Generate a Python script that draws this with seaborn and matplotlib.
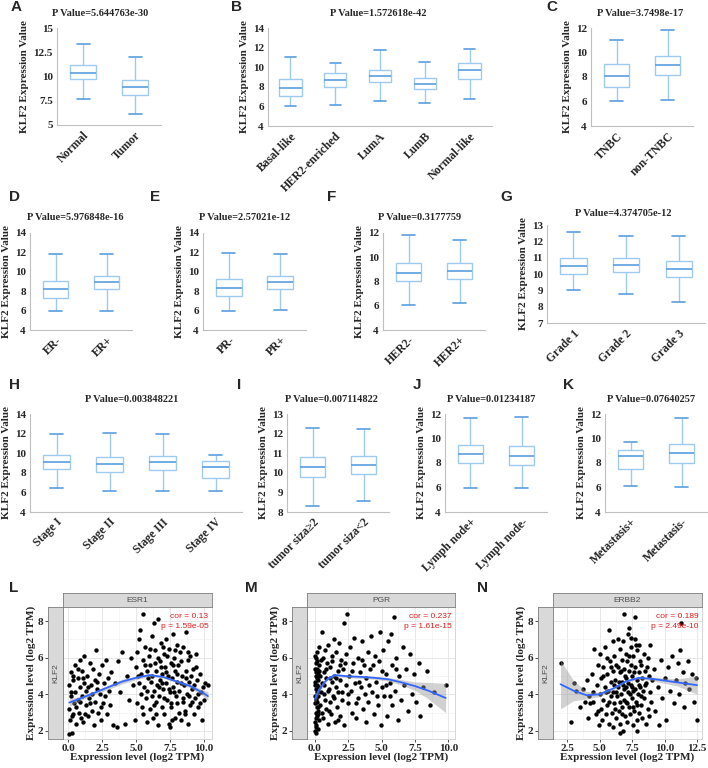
import numpy as np
import pandas as pd
import matplotlib
matplotlib.use("Agg")
import matplotlib.pyplot as plt
import seaborn as sns
from matplotlib.ticker import FixedLocator, MultipleLocator

# ---------------- box plot data: [lower whisker, Q1, median, Q3, upper whisker]
a_groups = ["Normal", "Tumor"]
a_stats = [[7.7, 9.75, 10.35, 11.2, 13.4], [6.1, 8.1, 8.9, 9.65, 12.0]]
a_yticks = [5, 7.5, 10, 12.5, 15]

b_groups = ["Basal-like", "HER2-enriched", "LumA", "LumB", "Normal-like"]
b_stats = [[6.0, 7.1, 7.9, 8.8, 11.0], [6.15, 7.95, 8.65, 9.45, 10.4],
           [6.55, 8.5, 9.15, 9.75, 11.8], [6.3, 7.8, 8.25, 8.9, 10.55],
           [6.8, 8.8, 9.7, 10.4, 11.9]]
b_yticks = [4, 6, 8, 10, 12, 14]

c_groups = ["TNBC", "non-TNBC"]
c_stats = [[6.05, 7.2, 8.1, 9.1, 11.05], [6.1, 8.2, 8.95, 9.7, 11.85]]
c_yticks = [4, 6, 8, 10, 12]

d_groups = ["ER-", "ER+"]
d_stats = [[6.0, 7.25, 8.2, 9.1, 11.8], [6.0, 8.2, 8.9, 9.6, 11.8]]
d_yticks = [4, 6, 8, 10, 12, 14]

e_groups = ["PR-", "PR+"]
e_stats = [[6.0, 7.55, 8.35, 9.3, 11.9], [6.05, 8.2, 8.9, 9.6, 11.8]]
e_yticks = [4, 6, 8, 10, 12, 14]

f_groups = ["HER2-", "HER2+"]
f_stats = [[6.05, 8.05, 8.7, 9.5, 11.8], [6.2, 8.2, 8.9, 9.55, 11.45]]
f_yticks = [4, 6, 8, 10, 12]

g_groups = ["Grade 1", "Grade 2", "Grade 3"]
g_stats = [[9.0, 10.0, 10.5, 11.0, 12.6], [8.8, 10.1, 10.55, 10.95, 12.3],
           [8.3, 9.8, 10.3, 10.8, 12.3]]
g_yticks = [7, 8, 9, 10, 11, 12, 13]

h_groups = ["Stage I", "Stage II", "Stage III", "Stage IV"]
h_stats = [[6.5, 8.4, 9.1, 9.8, 12.0], [6.1, 8.05, 8.9, 9.6, 12.05],
           [6.15, 8.25, 9.1, 9.7, 11.95], [6.15, 7.5, 8.55, 9.2, 9.8]]
h_yticks = [4, 6, 8, 10, 12, 14]

i_groups = ["tumor siza≥2", "tumor siza<2"]
i_stats = [[8.3, 9.8, 10.3, 10.8, 12.3], [8.55, 9.95, 10.4, 10.85, 12.25]]
i_yticks = [8, 9, 10, 11, 12, 13]

j_groups = ["Lymph node+", "Lymph node-"]
j_stats = [[5.95, 8.0, 8.75, 9.45, 11.65], [5.95, 7.8, 8.6, 9.35, 11.75]]
j_yticks = [4, 6, 8, 10, 12]

k_groups = ["Metastasis+", "Metastasis-"]
k_stats = [[6.1, 7.55, 8.6, 9.1, 9.7], [6.05, 8.0, 8.85, 9.55, 11.7]]
k_yticks = [4, 6, 8, 10, 12]

titles = {
    "A": "P Value=5.644763e-30", "B": "P Value=1.572618e-42", "C": "P Value=3.7498e-17",
    "D": "P Value=5.976848e-16", "E": "P Value=2.57021e-12", "F": "P Value=0.3177759",
    "G": "P Value=4.374705e-12", "H": "P Value=0.003848221", "I": "P Value=0.007114822",
    "J": "P Value=0.01234187", "K": "P Value=0.07640257",
}

# ---------------- scatter data (KLF2 vs gene, log2 TPM)
esr1_xy = [
    (0.05, 4.5), (0.1, 3.2), (0.15, 2.6), (0.2, 5.2), (0.1, 1.85), (0.3, 1.9), (0.25, 3.9),
    (0.35, 4.8), (0.4, 2.9), (0.45, 3.5), (0.5, 5.6), (0.55, 4.1), (0.6, 2.4), (0.7, 3.7),
    (0.75, 4.9), (0.8, 3.0), (0.85, 5.9), (0.9, 4.4), (0.95, 2.7),
    (1.0, 3.9), (1.05, 5.3), (1.1, 2.5), (1.15, 4.6), (1.2, 6.1), (1.3, 3.4), (1.35, 4.2),
    (1.4, 5.0), (1.5, 2.8), (1.55, 3.8), (1.6, 5.7), (1.7, 4.5), (1.75, 3.1), (1.8, 4.0),
    (1.85, 5.4), (1.9, 2.3), (1.95, 4.8), (2.0, 3.6),
    (2.05, 6.4), (2.1, 4.3), (2.2, 3.0), (2.25, 5.1), (2.35, 4.0), (2.4, 2.6), (2.5, 5.6),
    (2.55, 3.5), (2.65, 4.6), (2.7, 3.9), (2.8, 5.9), (2.85, 2.9), (2.95, 4.9), (3.0, 4.2),
    (3.1, 3.4), (3.2, 5.2), (3.3, 2.3), (3.45, 4.6), (3.6, 2.2), (3.7, 5.8), (3.85, 4.1),
    (4.0, 6.3), (4.2, 2.4), (4.35, 5.0), (4.5, 3.7), (4.6, 6.0), (4.8, 4.5), (4.9, 2.6),
    (5.0, 5.5), (5.05, 3.5), (5.1, 6.3), (5.2, 4.6), (5.25, 7.0), (5.3, 7.5), (5.35, 4.0),
    (5.4, 5.1), (5.5, 8.4), (5.5, 2.9), (5.55, 5.9), (5.6, 4.4), (5.7, 6.6), (5.75, 3.8),
    (5.8, 5.3), (5.85, 2.5), (5.9, 4.9), (5.95, 6.1),
    (6.0, 5.6), (6.05, 3.2), (6.1, 4.7), (6.15, 7.2), (6.2, 5.0), (6.25, 2.7), (6.3, 7.9),
    (6.35, 4.2), (6.4, 6.4), (6.45, 3.6), (6.5, 5.3), (6.55, 4.5), (6.6, 8.1), (6.6, 2.3),
    (6.65, 6.0), (6.7, 3.9), (6.75, 5.8), (6.8, 4.8), (6.85, 6.8), (6.9, 3.3), (6.95, 5.1),
    (7.0, 4.3),
    (7.05, 6.2), (7.1, 2.9), (7.15, 5.5), (7.2, 4.6), (7.25, 7.0), (7.3, 3.7), (7.35, 5.0),
    (7.4, 2.4), (7.45, 6.5), (7.5, 4.1), (7.55, 5.7), (7.6, 3.3), (7.65, 4.9), (7.7, 7.3),
    (7.75, 4.4), (7.8, 6.0), (7.85, 2.7), (7.9, 5.3), (7.95, 3.9), (8.0, 6.7), (8.0, 4.7),
    (7.5, 2.2),
    (8.05, 3.5), (8.1, 5.6), (8.2, 4.2), (8.25, 6.3), (8.3, 2.6), (8.4, 5.0), (8.45, 3.8),
    (8.5, 6.6), (8.55, 4.5), (8.6, 3.1), (8.7, 7.4), (8.7, 5.3), (8.75, 4.0), (8.8, 2.4),
    (8.85, 5.9), (8.9, 4.7), (8.95, 3.4), (9.0, 6.1),
    (9.1, 4.3), (9.2, 5.4), (9.25, 2.9), (9.35, 3.8), (9.4, 6.2), (9.5, 4.8), (9.6, 3.3),
    (9.7, 5.1), (9.8, 4.1), (9.9, 2.6), (10.0, 3.7), (10.1, 4.6), (10.3, 4.5),
    (0.2, 4.1), (0.4, 5.0), (0.6, 3.3), (0.9, 3.6), (1.1, 4.9), (1.25, 2.9), (1.45, 4.4),
    (1.65, 3.5), (2.15, 4.7), (2.45, 3.3), (0.3, 2.8), (0.7, 5.4),
    (5.15, 5.0), (5.45, 3.3), (5.65, 5.6), (5.8, 4.2), (6.05, 6.5), (6.2, 3.9), (6.4, 5.7),
    (6.5, 2.9), (6.7, 4.4), (6.85, 5.5), (7.0, 6.6), (7.1, 3.8), (7.2, 5.2), (7.3, 6.1),
    (7.4, 4.3), (7.55, 3.5), (7.7, 5.6), (7.8, 4.1), (7.9, 6.4), (8.05, 5.1), (8.15, 3.0),
    (8.3, 4.6), (8.35, 5.8), (8.5, 3.6), (8.65, 4.9), (8.8, 6.3), (8.9, 3.9), (9.05, 5.0),
    (9.15, 3.6), (9.3, 4.5), (9.45, 5.5), (9.55, 4.0), (9.75, 3.5), (9.95, 4.4), (6.3, 3.4),
    (6.9, 4.6), (7.65, 2.6), (8.6, 2.9),
]
esr1_fit_x = [0.1, 1, 2, 3, 4, 5, 6, 7, 8, 9, 10, 10.3]
esr1_fit_y = [3.55, 3.8, 4.1, 4.4, 4.7, 4.9, 5.05, 4.95, 4.7, 4.45, 4.05, 3.9]
esr1_fit_lo = [3.35, 3.68, 4.0, 4.28, 4.57, 4.8, 4.97, 4.88, 4.63, 4.35, 3.88, 3.65]
esr1_fit_hi = [3.75, 3.92, 4.2, 4.52, 4.83, 5.0, 5.13, 5.02, 4.77, 4.55, 4.22, 4.15]

pgr_xy = [
    (0.0, 2.0), (0.02, 2.5), (0.05, 3.0), (0.03, 3.5), (0.0, 3.9), (0.06, 4.3), (0.02, 4.7),
    (0.08, 5.2), (0.04, 5.7), (0.0, 6.1), (0.1, 2.3), (0.12, 2.8), (0.15, 3.3), (0.1, 3.7),
    (0.13, 4.1), (0.17, 4.5), (0.11, 5.0), (0.16, 5.4), (0.14, 6.3), (0.2, 2.1), (0.22, 3.1),
    (0.25, 3.9), (0.21, 4.8), (0.27, 5.6), (0.3, 2.6), (0.3, 4.4), (0.05, 1.9), (0.28, 6.6),
    (0.18, 3.6), (0.24, 5.1),
    (0.4, 3.4), (0.45, 5.9), (0.5, 4.6), (0.55, 7.4), (0.6, 2.7), (0.65, 5.2), (0.7, 4.0),
    (0.75, 6.4), (0.8, 3.2), (0.85, 4.9), (0.9, 5.7), (0.95, 2.4), (1.0, 6.7), (1.05, 4.3),
    (1.1, 3.6), (1.15, 5.5), (1.2, 2.9), (1.25, 6.1), (1.3, 4.7), (1.35, 3.9), (1.4, 5.0),
    (1.45, 7.0), (1.5, 2.5), (1.55, 4.4), (1.6, 6.3), (1.65, 3.3), (1.7, 5.3), (1.75, 4.1),
    (1.8, 6.8), (1.85, 2.8), (1.9, 4.8), (1.95, 5.9), (2.0, 3.7), (2.1, 5.4), (2.15, 7.9),
    (2.2, 2.3), (2.3, 4.5), (2.35, 6.2), (2.4, 8.4), (2.45, 3.5),
    (2.55, 5.0), (2.6, 6.6), (2.7, 4.2), (2.8, 3.0), (2.85, 5.7), (2.95, 7.1), (3.0, 4.6),
    (3.1, 2.7), (3.2, 6.0), (3.25, 3.8), (3.35, 5.2), (3.45, 4.4), (3.5, 6.9), (3.6, 3.2),
    (3.7, 5.6), (3.8, 2.5), (3.85, 4.9), (3.95, 6.3), (4.0, 3.6), (4.1, 5.4), (4.2, 7.2),
    (4.3, 4.1), (4.4, 2.9), (4.5, 6.1), (4.6, 4.7), (4.7, 3.4), (4.8, 5.8), (4.9, 7.4),
    (4.95, 2.3), (5.0, 4.4),
    (5.1, 6.4), (5.2, 3.9), (5.3, 5.1), (5.4, 2.8), (5.5, 6.9), (5.6, 4.6), (5.7, 7.3),
    (5.75, 3.4), (5.8, 5.6), (5.9, 8.2), (6.0, 4.2), (6.1, 6.0), (6.2, 2.6), (6.3, 5.0),
    (6.45, 3.7), (6.6, 6.6), (6.7, 4.5), (6.85, 5.4), (7.0, 3.1), (7.1, 6.2), (7.25, 4.0),
    (7.4, 5.1),
    (7.6, 3.6), (7.8, 5.7), (7.9, 2.8), (8.1, 4.4), (8.4, 5.3), (8.6, 3.4), (8.9, 4.1),
    (9.8, 4.5),
    (0.0, 4.5), (0.02, 5.4), (0.07, 2.2), (0.09, 3.8), (0.12, 4.9), (0.19, 2.9), (0.23, 4.2),
    (0.26, 3.3), (0.04, 6.0), (0.15, 5.8), (0.29, 5.3), (0.08, 2.7),
    (0.45, 4.1), (0.55, 3.0), (0.65, 4.5), (0.75, 3.7), (0.85, 5.4), (0.95, 4.2), (1.05, 3.1),
    (1.15, 4.9), (1.3, 5.8), (1.45, 3.8), (1.6, 4.9), (1.75, 2.6), (1.9, 5.6), (2.05, 4.1),
    (2.25, 5.7), (2.5, 4.0), (2.75, 5.3), (3.05, 3.5), (3.3, 4.7), (3.55, 5.9), (3.75, 4.0),
    (4.05, 4.5), (4.35, 5.6), (4.65, 3.9), (5.05, 5.3), (5.35, 4.5), (5.65, 3.9), (6.05, 5.4),
    (0.35, 5.0), (0.6, 6.0),
]
pgr_fit_x = [0.0, 0.3, 0.7, 1.0, 1.5, 2.5, 3.5, 4.5, 5.5, 6.5, 7.5, 8.5, 9.8]
pgr_fit_y = [3.75, 4.25, 4.65, 4.88, 5.05, 4.98, 4.95, 4.9, 4.82, 4.65, 4.45, 4.2, 3.8]
pgr_fit_lo = [3.5, 4.1, 4.55, 4.8, 4.97, 4.9, 4.87, 4.82, 4.72, 4.5, 4.22, 3.75, 3.0]
pgr_fit_hi = [4.0, 4.4, 4.75, 4.96, 5.13, 5.06, 5.03, 4.98, 4.92, 4.8, 4.68, 4.65, 4.6]

erbb2_xy = [
    (2.0, 5.7), (2.8, 2.5), (3.2, 4.2), (3.5, 3.3), (3.7, 4.3), (3.9, 3.6), (4.1, 2.7),
    (4.2, 3.9), (4.4, 5.1), (4.5, 3.6), (4.6, 6.5), (4.7, 2.9), (4.8, 4.5), (4.85, 3.1),
    (4.9, 5.6), (4.95, 2.3), (4.5, 4.1), (4.3, 3.5), (3.0, 4.6), (4.0, 4.8),
    (5.0, 4.0), (5.05, 6.2), (5.1, 3.2), (5.15, 4.9), (5.2, 2.6), (5.25, 5.5), (5.3, 3.7),
    (5.4, 4.4), (5.45, 6.6), (5.5, 2.9), (5.55, 5.1), (5.6, 3.4), (5.65, 4.2), (5.7, 7.5),
    (5.75, 2.4), (5.8, 5.8), (5.85, 3.9), (5.9, 4.7), (5.95, 3.0), (6.0, 5.3),
    (6.0, 2.2), (6.05, 4.1), (6.1, 6.1), (6.15, 3.5), (6.2, 4.8), (6.25, 2.7), (6.3, 5.6),
    (6.35, 3.9), (6.4, 7.0), (6.45, 4.4), (6.5, 3.1), (6.55, 5.2), (6.6, 2.4), (6.6, 6.5),
    (6.65, 4.0), (6.7, 5.9), (6.7, 3.3), (6.75, 4.7), (6.8, 2.0), (6.8, 6.9), (6.85, 3.7),
    (6.9, 5.4), (6.9, 4.3), (6.95, 2.8), (7.0, 6.2), (7.0, 3.6), (6.55, 1.9), (6.85, 8.4),
    (7.05, 4.9), (7.1, 2.5), (7.1, 5.8), (7.15, 4.1), (7.2, 7.3), (7.25, 3.3), (7.3, 5.3),
    (7.35, 2.9), (7.4, 6.6), (7.45, 4.5), (7.5, 3.8), (7.5, 5.0), (7.55, 2.3), (7.6, 6.1),
    (7.6, 4.2), (7.65, 3.1), (7.7, 7.0), (7.75, 5.5), (7.8, 3.6), (7.85, 4.8), (7.9, 2.6),
    (7.9, 6.4), (7.95, 4.0), (8.0, 5.2), (8.0, 3.0), (7.7, 8.2), (7.3, 7.6), (7.85, 2.0),
    (8.05, 6.7), (8.1, 4.4), (8.15, 3.4), (8.2, 5.6), (8.25, 2.7), (8.3, 4.9), (8.4, 6.2),
    (8.45, 3.8), (8.5, 5.3), (8.55, 2.4), (8.6, 4.6), (8.7, 6.0), (8.75, 3.2), (8.8, 5.0),
    (8.85, 4.1), (8.9, 6.7), (8.95, 3.6), (9.0, 4.8),
    (9.2, 5.4), (9.3, 3.1), (9.5, 4.4), (9.6, 2.3), (9.7, 5.9), (9.8, 3.8), (10.0, 4.9),
    (10.1, 2.6), (10.3, 5.5), (10.4, 4.2), (10.6, 6.1), (10.7, 3.5), (10.9, 4.8), (11.0, 5.7),
    (11.1, 4.0), (11.2, 6.4), (11.3, 7.9), (11.4, 5.2), (11.5, 3.3), (11.6, 4.6), (11.8, 5.8),
    (11.9, 4.3), (12.1, 5.1), (12.3, 3.6), (12.5, 2.6), (12.4, 4.9),
    (5.3, 5.0), (5.5, 4.1), (5.7, 3.6), (5.9, 5.5), (6.1, 4.5), (6.2, 3.2), (6.3, 4.1),
    (6.4, 5.5), (6.5, 4.7), (6.55, 3.6), (6.65, 5.3), (6.75, 2.9), (6.8, 4.5), (6.95, 5.0),
    (7.0, 4.4), (7.1, 3.5), (7.2, 4.6), (7.25, 6.1), (7.35, 4.0), (7.4, 5.6), (7.5, 4.4),
    (7.55, 3.3), (7.65, 5.2), (7.7, 4.3), (7.8, 6.7), (7.9, 3.4), (8.0, 4.5), (8.1, 5.8),
    (8.2, 3.9), (8.35, 4.2), (8.5, 4.5), (8.65, 5.5), (8.8, 2.8), (5.6, 6.0), (6.05, 6.9),
    (7.45, 7.1),
]
erbb2_fit_x = [2.0, 3.0, 4.0, 5.0, 6.0, 7.0, 8.0, 9.0, 10.0, 11.0, 12.5]
erbb2_fit_y = [4.55, 4.2, 3.95, 4.0, 4.3, 4.7, 4.9, 4.85, 4.75, 4.65, 4.5]
erbb2_fit_lo = [3.2, 3.65, 3.75, 3.88, 4.22, 4.64, 4.84, 4.75, 4.6, 4.45, 4.0]
erbb2_fit_hi = [5.85, 4.75, 4.15, 4.12, 4.38, 4.76, 4.96, 4.95, 4.9, 4.85, 5.0]

# ---------------- figure
sns.set_style("white")
plt.rcParams["font.family"] = ["Liberation Serif", "DejaVu Serif"]

W, H = 708, 768
fig = plt.figure(figsize=(W / 100, H / 100), dpi=100)

BOX_LIGHT = "#9fcaf0"
BOX_DARK = "#5a9ee0"
AXIS_GREY = "#bfbfbf"


def rect(x0, y0, x1, y1):
    return [x0 / W, 1 - y1 / H, (x1 - x0) / W, (y1 - y0) / H]


def fig_text(x, y, s, **kw):
    fig.text(x / W, 1 - y / H, s, ha="center", va="center", **kw)


def box_panel(letter, box, groups, stats, yticks, title_xy, letter_xy):
    ax = fig.add_axes(rect(*box))
    df = pd.DataFrame({"group": np.repeat(groups, 5), "value": np.concatenate(stats)})
    sns.boxplot(data=df, x="group", y="value", order=groups, ax=ax, whis=(0, 100),
                width=0.5, color="white", linecolor=BOX_LIGHT, linewidth=1.0,
                showfliers=False,
                medianprops={"color": BOX_DARK, "linewidth": 1.2},
                capprops={"color": BOX_DARK, "linewidth": 1.2})
    n = len(groups)
    ax.set_xlim(-0.5, n - 0.5)
    ax.set_ylim(yticks[0], yticks[-1])
    ax.set_yticks(yticks)
    ax.set_yticklabels([f"{t:g}" for t in yticks], fontsize=8, fontweight="bold")
    ax.set_xticks(range(n))
    ax.set_xticklabels(groups, rotation=45, ha="right", rotation_mode="anchor",
                       fontsize=8.5, fontweight="bold")
    ax.tick_params(axis="both", which="major", length=0, pad=3)
    ax.xaxis.set_minor_locator(FixedLocator(np.arange(n) + 0.5))
    ax.tick_params(axis="x", which="minor", length=3, color=AXIS_GREY, width=0.8)
    ax.set_xlabel("")
    ax.set_ylabel("KLF2 Expression Value", fontsize=8, fontweight="bold", labelpad=3)
    for side in ["top", "right"]:
        ax.spines[side].set_visible(False)
    for side in ["left", "bottom"]:
        ax.spines[side].set_color(AXIS_GREY)
        ax.spines[side].set_linewidth(0.8)
    fig_text(*title_xy, titles[letter], fontsize=7.5, fontweight="bold")
    fig_text(*letter_xy, letter, fontsize=11, fontweight="bold", family="Liberation Sans")


box_panel("A", (57, 28, 161, 125), a_groups, a_stats, a_yticks, (100, 13), (16, 7))
box_panel("B", (268, 28, 492, 126), b_groups, b_stats, b_yticks, (378, 13), (236, 7))
box_panel("C", (591, 28, 693, 126), c_groups, c_stats, c_yticks, (640, 13), (552, 7))
box_panel("D", (30, 233, 132, 330), d_groups, d_stats, d_yticks, (75, 218), (14, 197))
box_panel("E", (203, 233, 306, 330), e_groups, e_stats, e_yticks, (245, 218), (155, 197))
box_panel("F", (383, 233, 485, 330), f_groups, f_stats, f_yticks, (420, 218), (332, 197))
box_panel("G", (547, 225, 705, 323), g_groups, g_stats, g_yticks, (623, 213), (506, 197))
box_panel("H", (30, 414, 242, 512), h_groups, h_stats, h_yticks, (132, 399), (15, 385))
box_panel("I", (287, 414, 389, 512), i_groups, i_stats, i_yticks, (331, 399), (239, 385))
box_panel("J", (445, 414, 547, 512), j_groups, j_stats, j_yticks, (491, 399), (417, 385))
box_panel("K", (605, 414, 707, 512), k_groups, k_stats, k_yticks, (651, 399), (569, 385))


def scatter_panel(letter, x0, x1, points, fx, fy, flo, fhi, xlim, xticks, gene, cor, pval):
    top, bottom = 607, 739
    ax = fig.add_axes(rect(x0, top, x1, bottom))
    axl = fig.add_axes(rect(x0 - 15, top, x0, bottom), sharey=ax)
    axt = fig.add_axes(rect(x0, top - 14, x1, top))
    xs, ys = zip(*points)
    sns.scatterplot(x=list(xs), y=list(ys), ax=ax, color="black", s=10, linewidth=0, zorder=2)
    ax.fill_between(fx, flo, fhi, color="#999999", alpha=0.45, linewidth=0, zorder=3)
    sns.lineplot(x=fx, y=fy, ax=ax, color="#3366ff", linewidth=1.3, sort=False,
                 estimator=None, zorder=4)
    ax.set_xlim(xlim)
    ax.set_ylim(1.56, 8.77)
    ax.set_xticks(xticks)
    ax.set_xticklabels([f"{t:.1f}" for t in xticks], fontsize=8, fontweight="bold")
    ax.xaxis.set_minor_locator(MultipleLocator(1.25))
    ax.yaxis.set_major_locator(FixedLocator([2, 4, 6, 8]))
    ax.yaxis.set_minor_locator(FixedLocator([3, 5, 7]))
    ax.grid(which="major", color="#e3e3e3", linewidth=0.6)
    ax.grid(which="minor", color="#f0f0f0", linewidth=0.4)
    ax.set_axisbelow(True)
    ax.tick_params(axis="y", which="both", left=False, labelleft=False)
    ax.tick_params(axis="x", which="major", bottom=True, length=2.5, color="#333333",
                   width=0.6, pad=1)
    ax.tick_params(axis="x", which="minor", length=0)
    for sp in ax.spines.values():
        sp.set_color("#d0d0d0")
        sp.set_linewidth(0.6)
    ax.set_xlabel("Expression level (log2 TPM)", fontsize=8, fontweight="bold", labelpad=0)
    ax.set_ylabel("")
    ax.text(0.975, 0.93, cor, transform=ax.transAxes, ha="right", va="center",
            color="#e41a1c", fontsize=6, family="Liberation Sans")
    ax.text(0.975, 0.85, pval, transform=ax.transAxes, ha="right", va="center",
            color="#e41a1c", fontsize=6, family="Liberation Sans")

    axl.set_facecolor("#d9d9d9")
    axl.set_xticks([])
    axl.tick_params(axis="y", which="major", left=True, length=2.5, color="#333333",
                    width=0.6, labelsize=8, pad=1)
    axl.tick_params(axis="y", which="minor", left=False)
    for lbl in axl.get_yticklabels():
        lbl.set_fontweight("bold")
    axl.set_ylabel("Expression level (log2 TPM)", fontsize=8, fontweight="bold", labelpad=1)
    axl.text(0.5, 0.5, "KLF2", rotation=90, transform=axl.transAxes, ha="center",
             va="center", fontsize=6, color="#4d4d4d", family="Liberation Sans")
    for sp in axl.spines.values():
        sp.set_color("#7f7f7f")
        sp.set_linewidth(0.6)

    axt.set_facecolor("#d9d9d9")
    axt.set_xticks([])
    axt.set_yticks([])
    axt.text(0.5, 0.5, gene, transform=axt.transAxes, ha="center", va="center",
             fontsize=6, color="#4d4d4d", family="Liberation Sans")
    for sp in axt.spines.values():
        sp.set_color("#7f7f7f")
        sp.set_linewidth(0.6)
    fig_text({"L": 14, "M": 251, "N": 483}[letter], 588, letter, fontsize=11,
             fontweight="bold", family="Liberation Sans")


scatter_panel("L", 63, 212, esr1_xy, esr1_fit_x, esr1_fit_y, esr1_fit_lo, esr1_fit_hi,
              (-0.37, 10.6), [0, 2.5, 5, 7.5, 10], "ESR1", "cor = 0.13", "p = 1.59e-05")
scatter_panel("M", 307, 455, pgr_xy, pgr_fit_x, pgr_fit_y, pgr_fit_lo, pgr_fit_hi,
              (-0.6, 10.5), [0, 2.5, 5, 7.5, 10], "PGR", "cor = 0.237", "p = 1.61e-15")
scatter_panel("N", 553, 702, erbb2_xy, erbb2_fit_x, erbb2_fit_y, erbb2_fit_lo, erbb2_fit_hi,
              (1.42, 12.88), [2.5, 5, 7.5, 10, 12.5], "ERBB2", "cor = 0.189", "p = 2.49e-10")

fig.savefig("out.png", dpi=100)
